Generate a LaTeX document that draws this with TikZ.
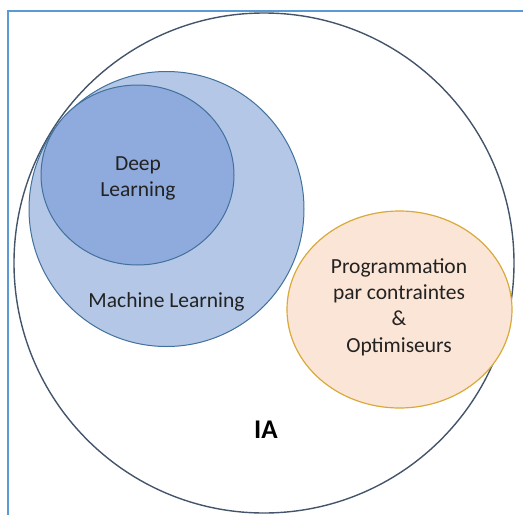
\documentclass[tikz,border=0pt]{standalone}
\usepackage{fontspec}
\setmainfont{Carlito}
\definecolor{framecol}{HTML}{5B9BD5}
\definecolor{outercol}{HTML}{44546A}
\definecolor{mlfill}{HTML}{B4C7E7}
\definecolor{dlfill}{HTML}{8FAADC}
\definecolor{blueline}{HTML}{41719C}
\definecolor{pcfill}{HTML}{FBE5D6}
\definecolor{pcline}{HTML}{D9A93A}
\definecolor{txt}{HTML}{222222}
\tikzset{
  setlabel/.style={text=txt, inner sep=0pt, align=center, anchor=base,
    font=\fontsize{21.5}{26.3}\selectfont},
}
\begin{document}
\begin{tikzpicture}[x=1pt, y=-1pt]
  \useasboundingbox (0,0) rectangle (523,515);
  % frame (only top and left edges fall inside the page)
  \draw[framecol, line width=2pt] (8,515) -- (8,11) -- (523,11);
  % IA universe
  \draw[outercol, line width=1.4pt] (264,263) circle (250);
  % machine learning and deep learning
  \draw[blueline, line width=1pt, fill=mlfill] (166.5,209) circle (137.5);
  \draw[blueline, line width=1pt, fill=dlfill] (137.5,175) ellipse (96.5 and 90);
  % constraint programming
  \draw[pcline, line width=1.2pt, fill=pcfill] (399.5,309.5) ellipse (112.5 and 98.5);
  % labels (base anchor sits on the last line of a multi-line label)
  \node[setlabel] (dl) at (138,196.7) {Deep\\Learning};
  \node[setlabel] (ml) at (166.5,307) {Machine Learning};
  \node[setlabel] (pc) at (399,352) {Programmation\\par contraintes\\\&\\Optimiseurs};
  \node[inner sep=0pt, anchor=base, text=black, font=\fontsize{27}{30}\selectfont\bfseries] (ia) at (266,438) {IA};
\end{tikzpicture}
\end{document}
